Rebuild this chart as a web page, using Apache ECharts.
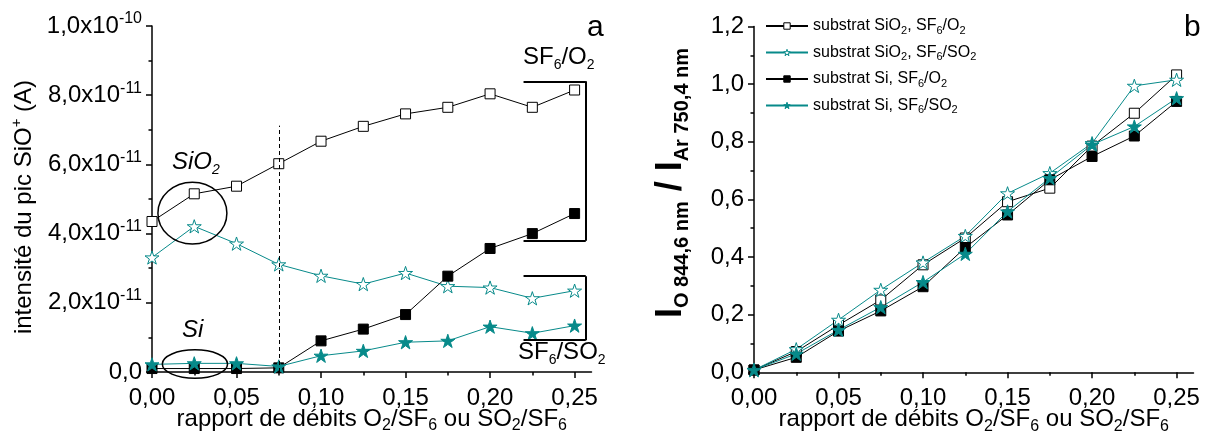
<!DOCTYPE html>
<html><head><meta charset="utf-8">
<script src="https://cdn.jsdelivr.net/npm/echarts@6/dist/echarts.min.js"></script>
<style>html,body{margin:0;padding:0;background:#fff}#c{width:1207px;height:436px}</style>
</head><body><div id="c"></div>
<script>
// ---------- data ----------
const xValues = [0, 0.025, 0.05, 0.075, 0.1, 0.125, 0.15, 0.175, 0.2, 0.225, 0.25];
const xTickValues = [0, 0.05, 0.1, 0.15, 0.2, 0.25];
const xTickLabels = ['0,00', '0,05', '0,10', '0,15', '0,20', '0,25'];
const xMinorTickValues = [0.025, 0.075, 0.125, 0.175, 0.225];
const seriesNames = ['substrat SiO_{2}, SF_{6}/O_{2}', 'substrat SiO_{2}, SF_{6}/SO_{2}', 'substrat Si, SF_{6}/O_{2}', 'substrat Si, SF_{6}/SO_{2}'];

// panel a : intensité du pic SiO+ (A)
const aSiO2_O2  = [4.35e-11, 5.15e-11, 5.37e-11, 6.02e-11, 6.67e-11, 7.10e-11, 7.46e-11, 7.65e-11, 8.04e-11, 7.65e-11, 8.15e-11];
const aSiO2_SO2 = [3.31e-11, 4.21e-11, 3.71e-11, 3.11e-11, 2.78e-11, 2.54e-11, 2.86e-11, 2.48e-11, 2.44e-11, 2.13e-11, 2.35e-11];
const aSi_O2    = [0.10e-11, 0.10e-11, 0.10e-11, 0.12e-11, 0.90e-11, 1.24e-11, 1.66e-11, 2.77e-11, 3.57e-11, 4.00e-11, 4.58e-11];
const aSi_SO2   = [0.22e-11, 0.25e-11, 0.25e-11, 0.16e-11, 0.47e-11, 0.61e-11, 0.86e-11, 0.90e-11, 1.31e-11, 1.12e-11, 1.34e-11];
const aYTickLabels = ['0,0', '2,0x10^{-11}', '4,0x10^{-11}', '6,0x10^{-11}', '8,0x10^{-11}', '1,0x10^{-10}'];

// panel b : I O844,6 / I Ar750,4
const bSiO2_O2  = [0.008, 0.072, 0.164, 0.251, 0.373, 0.466, 0.592, 0.639, 0.785, 0.899, 1.032];
const bSiO2_SO2 = [0.008, 0.080, 0.182, 0.286, 0.381, 0.473, 0.621, 0.691, 0.795, 0.994, 1.015];
const bSi_O2    = [0.008, 0.052, 0.143, 0.213, 0.297, 0.433, 0.546, 0.668, 0.749, 0.820, 0.940];
const bSi_SO2   = [0.008, 0.064, 0.147, 0.226, 0.313, 0.411, 0.558, 0.674, 0.790, 0.853, 0.951];
const bYTickLabels = ['0,0', '0,2', '0,4', '0,6', '0,8', '1,0', '1,2'];

// annotations of panel a (data units)
const dashedLineA = [[0.075, 0], [0.075, 7.12e-11]];
const bracketO2 = [[0.2198, 8.40e-11], [0.2566, 8.40e-11], [0.2566, 3.79e-11], [0.2198, 3.79e-11]];
const bracketSO2 = [[0.2198, 2.77e-11], [0.2566, 2.77e-11], [0.2566, 0.92e-11], [0.2198, 0.92e-11]];
const ellipseSiO2 = {cx: 0.0239, cy: 4.59e-11, rx: 0.0204, ry: 0.894e-11};
const ellipseSi = {cx: 0.0254, cy: 0.23e-11, rx: 0.0193, ry: 0.41e-11};

// ---------- helpers ----------
const FF = '"Liberation Sans", Arial, Helvetica, sans-serif';
const TEAL = '#078a8a';
function toRich(s, p) {
  let out = '', last = 0, m;
  const re = /([_^])\{([^}]*)\}/g;
  while ((m = re.exec(s))) {
    if (m.index > last) out += '{' + p + 'm|' + s.slice(last, m.index) + '}';
    out += '{' + p + (m[1] === '_' ? 's' : 'p') + '|' + m[2] + '}';
    last = re.lastIndex;
  }
  if (last < s.length) out += '{' + p + 'm|' + s.slice(last) + '}';
  return out;
}
function richSet(p, size, lh, subSize, subLH, supSize, extra) {
  const base = Object.assign({fontFamily: FF, color: '#000'}, extra || {});
  const r = {};
  r[p + 'm'] = Object.assign({}, base, {fontSize: size, lineHeight: lh, verticalAlign: 'middle'});
  r[p + 's'] = Object.assign({}, base, {fontSize: subSize, lineHeight: subLH, verticalAlign: 'bottom'});
  r[p + 'p'] = Object.assign({}, base, {fontSize: supSize, lineHeight: supSize, verticalAlign: 'top'});
  return r;
}
const STAR = 'path://M50,2 L61.8,38.2 L99.8,38.2 L69,60.6 L80.8,96.8 L50,74.4 L19.2,96.8 L31,60.6 L0.2,38.2 L38.2,38.2 Z';
const looks = [
  {symbol: 'rect', size: 10, fill: '#fff', stroke: '#000', line: '#000'},
  {symbol: STAR, size: 14, fill: '#fff', stroke: TEAL, line: TEAL},
  {symbol: 'rect', size: 10, fill: '#000', stroke: '#000', line: '#000'},
  {symbol: STAR, size: 14, fill: TEAL, stroke: TEAL, line: TEAL}
];
function mk(i, data, xIdx, yIdx, extra) {
  const s = looks[i];
  return Object.assign({
    type: 'line', name: seriesNames[i], xAxisIndex: xIdx, yAxisIndex: yIdx,
    data: xValues.map((x, k) => [x, data[k]]),
    symbol: s.symbol, symbolSize: s.size, symbolKeepAspect: true, showAllSymbol: true,
    lineStyle: {color: s.line, width: 1},
    itemStyle: {color: s.fill, borderColor: s.stroke, borderWidth: 1},
    emphasis: {disabled: true}, animation: false
  }, extra || {});
}
function segs(pts) {
  const out = [];
  for (let i = 0; i < pts.length - 1; i++) out.push([{coord: pts[i]}, {coord: pts[i + 1]}]);
  return out;
}

const tickLabRich = richSet('t', 24, 30, 14, 4, 16);
const axisNameRich = richSet('n', 24, 30, 16, 9, 14);
const legendRich = richSet('l', 16, 20, 11, 11, 11);
const annRich = richSet('a', 24, 30, 14, 3, 14);
const annRichIt = richSet('i', 24, 30, 14, 3, 14, {fontStyle: 'italic'});
const yTitleRich = richSet('y', 24, 30, 14, 4, 15);
const bTitleRich = richSet('b', 36, 42, 20, 4, 20, {fontWeight: 'bold'});

function xMain(gridIndex) {
  return {
    type: 'value', gridIndex, position: 'bottom', min: 0, max: 0.26, interval: 0.05,
    axisLine: {show: true, lineStyle: {color: '#000', width: 1.5}},
    axisTick: {show: true, inside: false, length: 6, customValues: xTickValues, lineStyle: {color: '#000', width: 1.5}},
    axisLabel: {show: true, customValues: xTickValues, margin: 11, fontSize: 24, lineHeight: 30, fontFamily: FF, color: '#000',
      formatter: v => xTickLabels[xTickValues.findIndex(t => Math.abs(t - v) < 1e-6)] || ''},
    splitLine: {show: false},
    name: toRich('rapport de débits O_{2}/SF_{6} ou SO_{2}/SF_{6}', 'n'),
    nameLocation: 'middle', nameGap: 32, nameMoveOverlap: false,
    nameTextStyle: {rich: axisNameRich}
  };
}
function xMinor(gridIndex) {
  return {
    type: 'value', gridIndex, position: 'bottom', min: 0, max: 0.26, interval: 0.05,
    axisLine: {show: false}, axisLabel: {show: false}, splitLine: {show: false},
    axisTick: {show: true, inside: false, length: 3.5, customValues: xMinorTickValues, lineStyle: {color: '#000', width: 1.5}}
  };
}

const option = {
  backgroundColor: '#fff',
  animation: false,
  textStyle: {fontFamily: FF},
  grid: [
    {left: 152, top: 26, width: 439.5, height: 346, containLabel: false, outerBoundsMode: 'none'},
    {left: 754, top: 26.5, width: 439.5, height: 345.8, containLabel: false, outerBoundsMode: 'none'}
  ],
  xAxis: [xMain(0), xMinor(0), xMain(1), xMinor(1)],
  yAxis: [
    {type: 'value', gridIndex: 0, min: 0, max: 1e-10, interval: 2e-11,
      axisLine: {show: true, lineStyle: {color: '#000', width: 1.5}},
      axisTick: {show: true, inside: false, length: 6, lineStyle: {color: '#000', width: 1.5}},
      minorTick: {show: true, splitNumber: 2, length: 3.5, lineStyle: {color: '#000', width: 1.5}},
      axisLabel: {margin: 10, rich: tickLabRich,
        formatter: v => toRich(aYTickLabels[Math.round(v / 2e-11)] || '', 't')},
      splitLine: {show: false}},
    {type: 'value', gridIndex: 1, min: 0, max: 1.2, interval: 0.2,
      axisLine: {show: true, lineStyle: {color: '#000', width: 1.5}},
      axisTick: {show: true, inside: false, length: 6, lineStyle: {color: '#000', width: 1.5}},
      minorTick: {show: true, splitNumber: 2, length: 3.5, lineStyle: {color: '#000', width: 1.5}},
      axisLabel: {margin: 10, fontSize: 24, fontFamily: FF, color: '#000',
        formatter: v => bYTickLabels[Math.round(v / 0.2)] || ''},
      splitLine: {show: false}}
  ],
  legend: {
    show: true, orient: 'vertical', left: 760, top: 13, itemWidth: 42, itemHeight: 8, itemGap: 8.5,
    selectedMode: false,
    data: seriesNames.map((n, i) => ({name: n, itemStyle: {color: looks[i].fill, borderColor: looks[i].stroke, borderWidth: 1}})),
    formatter: name => toRich(name, 'l'),
    textStyle: {rich: legendRich}
  },
  series: [
    mk(0, aSiO2_O2, 0, 0, {markLine: {silent: true, symbol: ['none', 'none'], label: {show: false},
      lineStyle: {type: [4, 3], color: '#000', width: 1}, data: segs(dashedLineA)}}),
    mk(1, aSiO2_SO2, 0, 0),
    mk(2, aSi_O2, 0, 0, {markLine: {silent: true, symbol: ['none', 'none'], label: {show: false},
      lineStyle: {type: 'solid', color: '#000', width: 2}, data: segs(bracketO2).concat(segs(bracketSO2))}}),
    mk(3, aSi_SO2, 0, 0),
    mk(0, bSiO2_O2, 2, 1),
    mk(1, bSiO2_SO2, 2, 1),
    mk(2, bSi_O2, 2, 1),
    mk(3, bSi_SO2, 2, 1)
  ]
};

const chart = echarts.init(document.getElementById('c'), null, {renderer: 'canvas'});
chart.setOption(option);

function ell(e) {
  const c = chart.convertToPixel({gridIndex: 0}, [e.cx, e.cy]);
  const px = chart.convertToPixel({gridIndex: 0}, [e.cx + e.rx, e.cy + e.ry]);
  return {type: 'ellipse', shape: {cx: c[0], cy: c[1], rx: Math.abs(px[0] - c[0]), ry: Math.abs(c[1] - px[1])},
    style: {fill: 'none', stroke: '#000', lineWidth: 1.5}, z: 100};
}
function txt(x, y, s, p, rich, extra) {
  return Object.assign({type: 'text', x, y, z: 100,
    style: {text: toRich(s, p), rich, textAlign: 'left', textVerticalAlign: 'top', align: 'left', verticalAlign: 'top'}}, extra || {});
}
chart.setOption({
  graphic: [
    ell(ellipseSiO2), ell(ellipseSi),
    txt(523, 42, 'SF_{6}/O_{2}', 'a', annRich),
    txt(518, 337, 'SF_{6}/SO_{2}', 'a', annRich),
    txt(172, 147, 'SiO_{2}', 'i', annRichIt),
    txt(182, 315, 'Si', 'i', annRichIt),
    {type: 'text', x: 587, y: 13, z: 100, style: {text: 'a', font: '30px ' + FF, fill: '#000', textAlign: 'left', textVerticalAlign: 'top'}},
    {type: 'text', x: 1184, y: 13, z: 100, style: {text: 'b', font: '30px ' + FF, fill: '#000', textAlign: 'left', textVerticalAlign: 'top'}},
    {type: 'text', x: 24, y: 207, rotation: Math.PI / 2, z: 100,
      style: {text: toRich('intensité du pic SiO^{+} (A)', 'y'), rich: yTitleRich, textAlign: 'center', textVerticalAlign: 'middle', align: 'center', verticalAlign: 'middle'}},
    {type: 'text', x: 671, y: 183, rotation: Math.PI / 2, z: 100,
      style: {text: '{bm|I}{bs|O 844,6 nm}{bm| / I}{bs|Ar 750,4 nm}', rich: bTitleRich, textAlign: 'center', textVerticalAlign: 'middle', align: 'center', verticalAlign: 'middle'}}
  ]
});
</script>
</body></html>
